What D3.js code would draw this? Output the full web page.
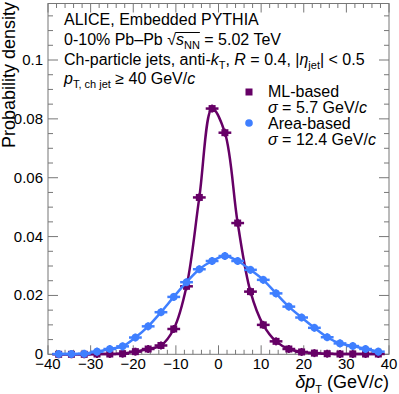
<!DOCTYPE html>
<html lang="en">
  <head>
    <meta charset="UTF-8">
    <title>delta pT</title>
    <style>
body {margin: 0; background: #fff;}
text {font-family: "Liberation Sans", Arial, sans-serif; fill: #000;}
</style>
  </head>
  <body>
<div id="my_dataviz"></div>
<script src="https://d3js.org/d3.v7.min.js"></script>
<script>

// bin centres (GeV/c) and the two distributions
var binCenters = [-37.5, -34.5, -31.5, -28.5, -25.5, -22.5, -19.5, -16.5, -13.5, -10.5, -7.5, -4.5, -1.5,
                  1.5, 4.5, 7.5, 10.5, 13.5, 16.5, 19.5, 22.5, 25.5, 28.5, 31.5, 34.5, 37.5];
var mlValues = [0.0000, 0.0000, 0.0000, 0.0001, 0.0001, 0.0002, 0.0009, 0.0018, 0.0030, 0.0086, 0.0231, 0.0533, 0.0835,
                0.0753, 0.0446, 0.0213, 0.0100, 0.0044, 0.0018, 0.0008, 0.0004, 0.0002, 0.0001, 0.0001, 0.0001, 0.0001];
var areaValues = [0.0001, 0.0001, 0.0002, 0.0009, 0.0018, 0.0027, 0.0057, 0.0095, 0.0143, 0.0195, 0.0245, 0.0289, 0.0317,
                  0.0334, 0.0317, 0.0287, 0.0253, 0.0207, 0.0162, 0.0125, 0.0090, 0.0058, 0.0037, 0.0028, 0.0018, 0.0009];
var binHalfWidth = 1.5;

var xTicks = [-40, -30, -20, -10, 0, 10, 20, 30, 40];
var yTicks = [0, 0.02, 0.04, 0.06, 0.08, 0.1];
var yTickLabels = ["0", "0.02", "0.04", "0.06", "0.08", "0.1"];

var purple = "#660066", blue = "#3f7fff";

var W = 399, H = 394;
var plotL = 48, plotR = 389, plotT = 3.5, plotB = 354.3;

var svg = d3.select("#my_dataviz")
  .append("svg")
    .attr("width", W)
    .attr("height", H);

var x = d3.scaleLinear().domain([-40, 40]).range([plotL, plotR]);
var y = d3.scaleLinear().domain([0, 0.1192]).range([plotB, plotT]);

// frame + ticks (ROOT style, ticks on all four sides)
var axisCol = "#777";
var frame = svg.append("g").attr("stroke", axisCol).attr("stroke-width", 1).attr("fill", "none");
frame.append("rect").attr("x", plotL).attr("y", plotT).attr("width", plotR - plotL).attr("height", plotB - plotT);

d3.range(-40, 40.01, 2).forEach(function(v) {
  var major = Math.abs(v % 10) < 1e-9;
  var len = major ? 9 : 4.5;
  frame.append("line").attr("x1", x(v)).attr("x2", x(v)).attr("y1", plotB).attr("y2", plotB - len);
  frame.append("line").attr("x1", x(v)).attr("x2", x(v)).attr("y1", plotT).attr("y2", plotT + len);
});
d3.range(0, 0.1191, 0.005).forEach(function(v, i) {
  var major = i % 4 === 0;
  var len = major ? 10 : 5;
  frame.append("line").attr("x1", plotL).attr("x2", plotL + len).attr("y1", y(v)).attr("y2", y(v));
  frame.append("line").attr("x1", plotR).attr("x2", plotR - len).attr("y1", y(v)).attr("y2", y(v));
});

// tick labels
svg.append("g").selectAll("text").data(xTicks).enter().append("text")
  .attr("x", function(d) { return x(d); })
  .attr("y", 369)
  .attr("text-anchor", "middle")
  .attr("font-size", 15)
  .text(function(d) { return d < 0 ? "\u2212" + (-d) : d; });

svg.append("g").selectAll("text").data(yTicks).enter().append("text")
  .attr("x", 43)
  .attr("y", function(d) { return y(d) + 5; })
  .attr("text-anchor", "end")
  .attr("font-size", 15)
  .text(function(d, i) { return yTickLabels[i]; });

// axis titles
svg.append("text")
  .attr("transform", "translate(15,2) rotate(-90)")
  .attr("text-anchor", "end")
  .attr("font-size", 18)
  .text("Probability density");

var xt = svg.append("text").attr("x", plotR).attr("y", 388).attr("text-anchor", "end").attr("font-size", 18);
xt.append("tspan").attr("font-style", "italic").text("\u03b4p");
xt.append("tspan").attr("font-size", 11).attr("dy", 5).text("T");
xt.append("tspan").attr("dy", -5).text(" (GeV/");
xt.append("tspan").attr("font-style", "italic").text("c");
xt.append("tspan").text(")");

// curves
var line = d3.line()
  .x(function(d) { return x(d[0]); })
  .y(function(d) { return y(d[1]); })
  .curve(d3.curveCatmullRom.alpha(0.5));

function series(vals) { return binCenters.map(function(c, i) { return [c, vals[i]]; }); }

function drawSeries(vals, col, shape) {
  var pts = series(vals);
  svg.append("path").datum(pts)
    .attr("fill", "none").attr("stroke", col).attr("stroke-width", 2.5)
    .attr("d", line);
  var g = svg.append("g");
  pts.forEach(function(p) {
    var cx = x(p[0]), cy = y(p[1]);
    g.append("line").attr("x1", x(p[0] - binHalfWidth)).attr("x2", x(p[0] + binHalfWidth))
      .attr("y1", cy).attr("y2", cy).attr("stroke", col).attr("stroke-width", 2.5);
    g.append("line").attr("x1", cx).attr("x2", cx).attr("y1", cy - 4).attr("y2", cy + 4)
      .attr("stroke", col).attr("stroke-width", 2);
    if (shape === "square")
      g.append("rect").attr("x", cx - 3.5).attr("y", cy - 3.5).attr("width", 7).attr("height", 7).attr("fill", col);
    else
      g.append("circle").attr("cx", cx).attr("cy", cy).attr("r", 3.8).attr("fill", col);
  });
}
drawSeries(mlValues, purple, "square");
drawSeries(areaValues, blue, "circle");

// text block
var tx = 64, fs = 16;
function sub(t, s) { t.append("tspan").attr("font-size", 11).attr("dy", 4).text(s); }
function unsub(t) { return t.append("tspan").attr("dy", -4); }

svg.append("text").attr("x", tx).attr("y", 25).attr("font-size", fs).text("ALICE, Embedded PYTHIA");

var l2 = svg.append("text").attr("x", tx).attr("y", 44.5).attr("font-size", fs);
l2.append("tspan").text("0-10% Pb\u2013Pb ");
l2.append("tspan").text("\u221a");
l2.append("tspan").attr("font-style", "italic").text("s");
sub(l2, "NN");
unsub(l2).text(" = 5.02 TeV");
// overline of the square root
var n0 = "0-10% Pb\u2013Pb ".length;
var e1 = l2.node().getExtentOfChar(n0), e2 = l2.node().getExtentOfChar(n0 + 3);
svg.append("line").attr("x1", e1.x + e1.width - 0.5).attr("x2", e2.x + e2.width)
  .attr("y1", e1.y + 2).attr("y2", e1.y + 2).attr("stroke", "#000").attr("stroke-width", 1);

var l3 = svg.append("text").attr("x", tx).attr("y", 64.5).attr("font-size", fs);
l3.append("tspan").text("Ch-particle jets, anti-");
l3.append("tspan").attr("font-style", "italic").text("k");
sub(l3, "T");
unsub(l3).text(", ");
l3.append("tspan").attr("font-style", "italic").text("R");
l3.append("tspan").text(" = 0.4, |");
l3.append("tspan").attr("font-style", "italic").text("\u03b7");
sub(l3, "jet");
unsub(l3).text("| < 0.5");

var l4 = svg.append("text").attr("x", tx).attr("y", 84).attr("font-size", fs);
l4.append("tspan").attr("font-style", "italic").text("p");
sub(l4, "T, ch jet");
unsub(l4).text(" \u2265 40 GeV/");
l4.append("tspan").attr("font-style", "italic").text("c");

// legend
var lx = 249, ltx = 268;
svg.append("rect").attr("x", lx - 3.5).attr("y", 92 - 3.5).attr("width", 7).attr("height", 7).attr("fill", purple);
svg.append("circle").attr("cx", lx).attr("cy", 123).attr("r", 3.8).attr("fill", blue);
svg.append("text").attr("x", ltx).attr("y", 96.5).attr("font-size", fs).text("ML-based");
var s1 = svg.append("text").attr("x", ltx).attr("y", 113).attr("font-size", fs);
s1.append("tspan").attr("font-style", "italic").text("\u03c3");
s1.append("tspan").text(" = 5.7 GeV/");
s1.append("tspan").attr("font-style", "italic").text("c");
svg.append("text").attr("x", ltx).attr("y", 128.5).attr("font-size", fs).text("Area-based");
var s2 = svg.append("text").attr("x", ltx).attr("y", 145).attr("font-size", fs);
s2.append("tspan").attr("font-style", "italic").text("\u03c3");
s2.append("tspan").text(" = 12.4 GeV/");
s2.append("tspan").attr("font-style", "italic").text("c");

</script>
  </body>
</html>
